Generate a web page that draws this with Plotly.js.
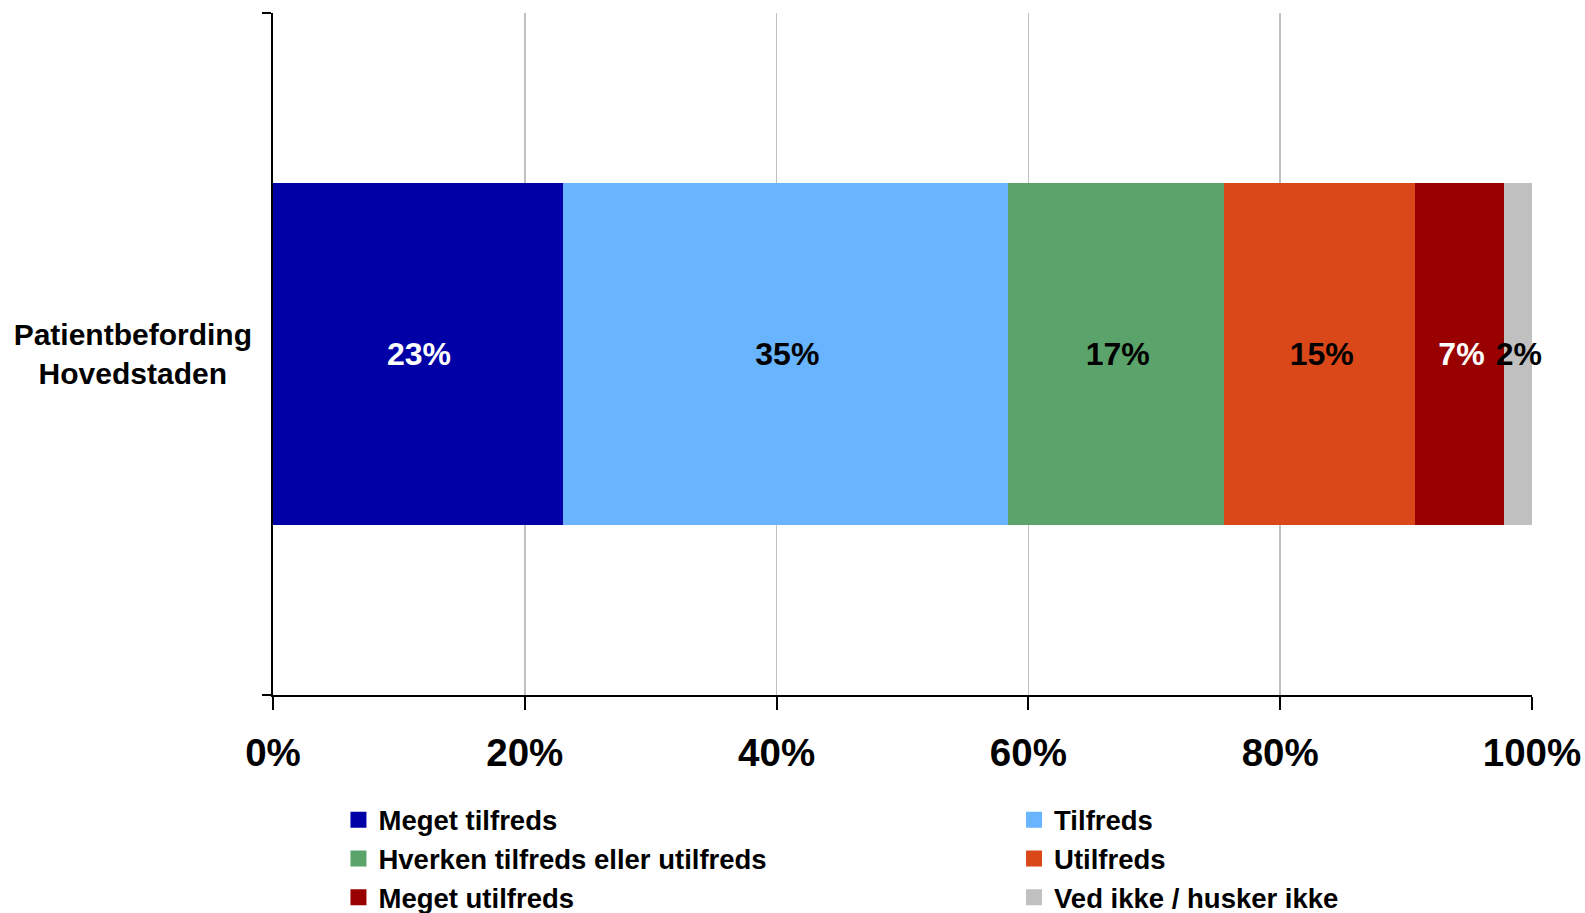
<!DOCTYPE html>
<html>
<head>
<meta charset="utf-8">
<script src="https://cdn.plot.ly/plotly-3.0.1.min.js"></script>
<style>html,body{margin:0;padding:0;background:#fff;}#chart{width:1585px;height:913px;}</style>
</head>
<body>
<div id="chart"></div>
<script>
// Data
const categories = ["Patientbefording Hovedstaden"];
const categoryTickLabels = ["Patientbefording<br>Hovedstaden\u00a0\u00a0\u00a0"];
const seriesNames = ["Meget tilfreds", "Tilfreds", "Hverken tilfreds eller utilfreds", "Utilfreds", "Meget utilfreds", "Ved ikke / husker ikke"];
const meget_tilfreds = [23.2];
const tilfreds = [35.3];
const hverken = [17.2];
const utilfreds = [15.2];
const meget_utilfreds = [7.0];
const ved_ikke = [2.1];
const seriesValues = [meget_tilfreds, tilfreds, hverken, utilfreds, meget_utilfreds, ved_ikke];
const xTickVals = [0, 20, 40, 60, 80, 100];
const xTickLabels = ["0%", "20%", "40%", "60%", "80%", "100%"];

const colors = ["#0000A6", "#69B4FF", "#5AA36A", "#DA4719", "#990000", "#C0C0C0"];
const textColors = ["#FFFFFF", "#000000", "#000000", "#000000", "#FFFFFF", "#000000"];
// legend layout: two columns, filled row by row like the reference
const legendIds = ["legend", "legend2", "legend", "legend2", "legend", "legend2"];
const FONT = "'Liberation Sans', Arial, sans-serif";

const traces = seriesNames.map((name, i) => ({
  type: "bar",
  orientation: "h",
  name: name,
  legend: legendIds[i],
  y: categories,
  x: seriesValues[i],
  marker: {color: colors[i], line: {color: colors[i], width: 4}},
  texttemplate: "%{x:.0f}%",
  textposition: "inside",
  insidetextanchor: "middle",
  textangle: 0,
  constraintext: "none",
  cliponaxis: false,
  textfont: {family: FONT, size: 32, color: textColors[i], weight: 700},
  hoverinfo: "skip"
}));

const legendBase = {
  orientation: "v",
  xanchor: "left",
  yanchor: "top",
  y: -0.147,
  traceorder: "normal",
  tracegroupgap: 0,
  bgcolor: "rgba(0,0,0,0)",
  font: {family: FONT, size: 27.5, color: "#000000", weight: 700},
  itemclick: false,
  itemdoubleclick: false
};

const layout = {
  width: 1585,
  height: 913,
  paper_bgcolor: "#FFFFFF",
  plot_bgcolor: "#FFFFFF",
  barmode: "stack",
  bargap: 0.505,
  showlegend: true,
  margin: {l: 273, r: 53, t: 13, b: 218, autoexpand: false},
  font: {family: FONT, color: "#000000", weight: 700},
  xaxis: {
    range: [0, 100],
    tickvals: xTickVals,
    ticktext: xTickLabels,
    showgrid: true,
    gridcolor: "#C0C0C0",
    gridwidth: 1.5,
    zeroline: false,
    showline: true,
    linecolor: "#000000",
    linewidth: 2,
    ticks: "outside",
    ticklen: 13,
    tickwidth: 2,
    tickcolor: "#000000",
    tickfont: {family: FONT, size: 38.5, color: "#000000", weight: 700},
    ticklabelstandoff: 10,
    fixedrange: true
  },
  yaxis: {
    type: "category",
    tickvals: categories,
    ticktext: categoryTickLabels,
    showline: true,
    linecolor: "#000000",
    linewidth: 2,
    ticks: "outside",
    tickson: "boundaries",
    ticklen: 9,
    tickwidth: 2,
    tickcolor: "#000000",
    showgrid: false,
    tickfont: {family: FONT, size: 30, color: "#000000", weight: 700},
    ticklabelstandoff: 13,
    fixedrange: true
  },
  legend: Object.assign({}, legendBase, {x: 0.052}),
  legend2: Object.assign({}, legendBase, {x: 0.5886})
};

Plotly.newPlot("chart", traces, layout, {displayModeBar: false, staticPlot: true});
</script>
</body>
</html>
